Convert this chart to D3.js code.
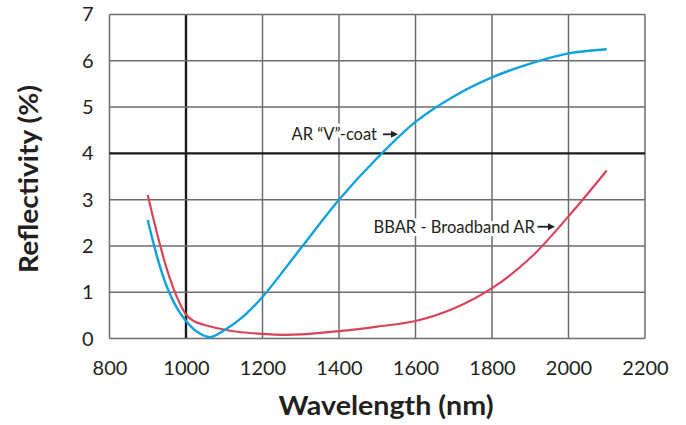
<!DOCTYPE html>
<html><head><meta charset="utf-8">
<script src="https://cdn.jsdelivr.net/npm/d3@7"></script>
<style>
html,body{margin:0;padding:0;background:#fff;}
svg{display:block;}
text{font-family:Lato,"Open Sans",sans-serif;fill:#231f20;}
</style></head>
<body>
<script>
// Data
const vcoatWavelength = [900, 925, 950, 975, 1000, 1030, 1063, 1100, 1150, 1200, 1300, 1400, 1500, 1600, 1700, 1800, 1900, 2000, 2100];
const vcoatReflect    = [2.56, 1.75, 1.12, 0.68, 0.38, 0.14, 0.03, 0.18, 0.48, 0.90, 1.95, 3.00, 3.90, 4.68, 5.23, 5.64, 5.94, 6.16, 6.25];
const bbarWavelength  = [900, 925, 950, 975, 1000, 1020, 1046, 1116, 1200, 1260, 1300, 1400, 1500, 1600, 1700, 1800, 1900, 2000, 2100];
const bbarReflect     = [3.10, 2.25, 1.50, 0.92, 0.52, 0.38, 0.30, 0.17, 0.10, 0.08, 0.09, 0.16, 0.26, 0.38, 0.65, 1.09, 1.74, 2.64, 3.63];
const xTicks = [800, 1000, 1200, 1400, 1600, 1800, 2000, 2200];
const yTicks = [0, 1, 2, 3, 4, 5, 6, 7];
const labels = {x: "Wavelength (nm)", y: "Reflectivity (%)", vcoat: "AR \u201CV\u201D-coat", bbar: "BBAR - Broadband AR"};

const W = 686, H = 425;
const m = {left: 109.5, right: 645, top: 14.5, bottom: 338.6};
const svg = d3.select("body").append("svg").attr("width", W).attr("height", H);

const x = d3.scaleLinear().domain([800, 2200]).range([m.left, m.right]);
const y = d3.scaleLinear().domain([0, 7]).range([m.bottom, m.top]);

// grid
const g = svg.append("g");
g.selectAll(".vx").data(xTicks).join("line")
  .attr("x1", d => x(d)).attr("x2", d => x(d)).attr("y1", y(0)).attr("y2", y(7))
  .attr("stroke", d => d === 1000 ? "#1a1a1a" : "#6d6d6d")
  .attr("stroke-width", d => d === 1000 ? 2.4 : 1.5);
g.selectAll(".hy").data(yTicks).join("line")
  .attr("x1", x(800)).attr("x2", x(2200)).attr("y1", d => y(d)).attr("y2", d => y(d))
  .attr("stroke", d => d === 4 ? "#1a1a1a" : "#6d6d6d")
  .attr("stroke-width", d => d === 4 ? 2.4 : 1.5);

// axes labels via d3 axes
const xAxis = svg.append("g").attr("transform", `translate(0,${y(0)})`)
  .call(d3.axisBottom(x).tickValues(xTicks).tickSize(0).tickPadding(22).tickFormat(d3.format("d")));
xAxis.select(".domain").remove();
xAxis.selectAll("text").attr("font-size", 20).style("font-family", "Lato, sans-serif").attr("fill", "#231f20");

const yAxis = svg.append("g").attr("transform", `translate(${m.left},0)`)
  .call(d3.axisLeft(y).tickValues(yTicks).tickSize(0).tickPadding(16).tickFormat(d3.format("d")));
yAxis.select(".domain").remove();
yAxis.selectAll("text").attr("font-size", 20).style("font-family", "Lato, sans-serif").attr("fill", "#231f20");

// lines
const line = d3.line().curve(d3.curveCatmullRom.alpha(0.5)).x(d => x(d[0])).y(d => y(d[1]));
svg.append("path").datum(d3.zip(bbarWavelength, bbarReflect)).attr("d", line)
  .attr("fill", "none").attr("stroke", "#d8435a").attr("stroke-width", 2.2);
svg.append("path").datum(d3.zip(vcoatWavelength, vcoatReflect)).attr("d", line)
  .attr("fill", "none").attr("stroke", "#0ea2dc").attr("stroke-width", 2.4);

// annotations
function annot(txt, tx, ty, ax1, ax2, ay) {
  svg.append("text").attr("x", tx).attr("y", ty).attr("font-size", 16.5)
    .attr("stroke", "#fff").attr("stroke-width", 6).attr("paint-order", "stroke")
    .attr("stroke-linejoin", "round").text(txt);
  svg.append("line").attr("x1", ax1).attr("x2", ax2 - 5).attr("y1", ay).attr("y2", ay)
    .attr("stroke", "#231f20").attr("stroke-width", 1.8);
  svg.append("path").attr("d", `M${ax2},${ay} L${ax2 - 7},${ay - 3.5} L${ax2 - 7},${ay + 3.5} Z`).attr("fill", "#231f20");
}
annot(labels.vcoat, 291.5, 140, 383, 398, 134.3);
annot(labels.bbar, 373.5, 232.7, 537.5, 555, 226.7);

// axis titles
svg.append("text").attr("x", 386).attr("y", 415).attr("text-anchor", "middle")
  .attr("font-size", 26).attr("font-weight", "bold")
  .attr("textLength", 215).attr("lengthAdjust", "spacingAndGlyphs").text(labels.x);
svg.append("text").attr("transform", "translate(38,179) rotate(-90)").attr("text-anchor", "middle")
  .attr("font-size", 26).attr("font-weight", "bold")
  .attr("textLength", 188).attr("lengthAdjust", "spacingAndGlyphs").text(labels.y);
</script>
</body></html>
